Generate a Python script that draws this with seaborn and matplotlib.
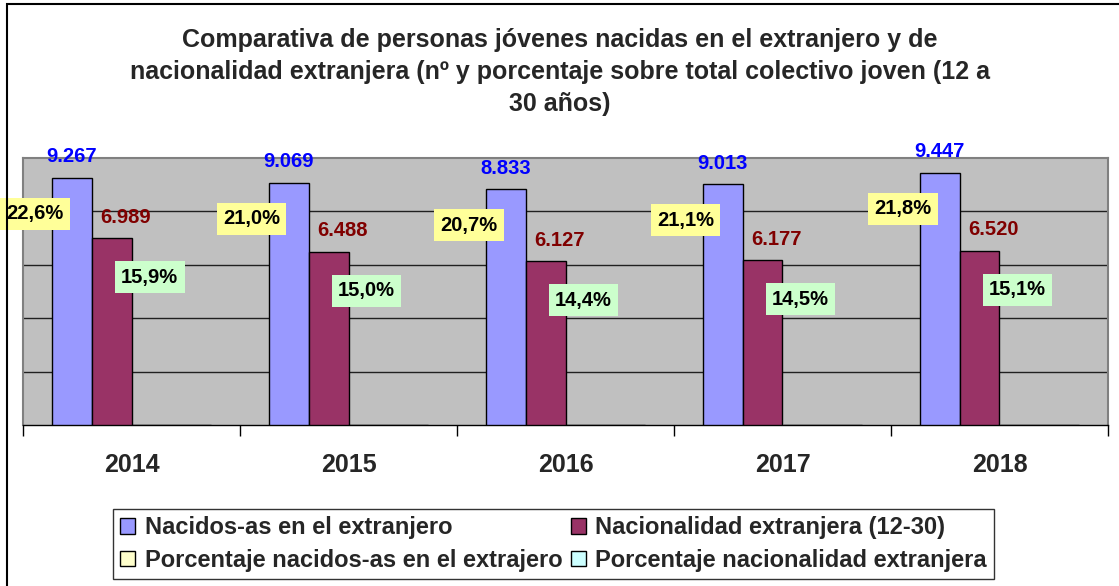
import numpy as np
import pandas as pd
import matplotlib
matplotlib.use("Agg")
import matplotlib.pyplot as plt
import seaborn as sns
from matplotlib.patches import Patch, Rectangle

# data
years = ["2014", "2015", "2016", "2017", "2018"]
nacidos = [9267, 9069, 8833, 9013, 9447]
nacionalidad = [6989, 6488, 6127, 6177, 6520]
pct_nacidos = [22.6, 21.0, 20.7, 21.1, 21.8]
pct_nacionalidad = [15.9, 15.0, 14.4, 14.5, 15.1]
series_names = ["Nacidos-as en el extranjero", "Nacionalidad extranjera (12-30)",
                "Porcentaje nacidos-as en el extrajero", "Porcentaje nacionalidad extranjera"]
colors = ["#9999FF", "#993366", "#FFFFCC", "#CCFFFF"]

title = ("Comparativa de personas jóvenes nacidas en el extranjero y de\n"
         "nacionalidad extranjera (nº y porcentaje sobre total colectivo joven (12 a\n"
         "30 años)")

def miles(v):
    return f"{v:,}".replace(",", ".")

def pct(v):
    return f"{v:.1f}%".replace(".", ",")

# percentages sit on the same axis as fractions, like the original (invisible bars)
df = pd.DataFrame({
    "year": years * 4,
    "serie": np.repeat(series_names, len(years)),
    "valor": nacidos + nacionalidad + [p / 100 for p in pct_nacidos] + [p / 100 for p in pct_nacionalidad],
})

sns.set_style("white")
plt.rcParams["font.family"] = ["Liberation Sans", "DejaVu Sans"]
plt.rcParams["font.weight"] = "bold"

fig = plt.figure(figsize=(11.19, 5.86), dpi=100)
ax = fig.add_axes([23 / 1119, 1 - 425 / 586, 1085 / 1119, 267 / 586])
ax.set_facecolor("#C0C0C0")

sns.barplot(data=df, x="year", y="valor", hue="serie", hue_order=series_names,
            palette=colors, saturation=1, width=0.737, edgecolor="black", linewidth=1,
            legend=False, ax=ax, zorder=3)

ax.set_ylim(0, 10000)
ax.set_xlim(-0.5, len(years) - 0.5)
ax.set_yticks([2000, 4000, 6000, 8000])
ax.set_yticklabels([])
ax.tick_params(axis="y", length=0)
ax.grid(axis="y", color="#202020", linewidth=1)
ax.set_axisbelow(True)
ax.set_xlabel("")
ax.set_ylabel("")
for s in ["left", "right", "top"]:
    ax.spines[s].set_color("#808080")
    ax.spines[s].set_linewidth(1.5)
ax.spines["bottom"].set_color("black")
ax.spines["bottom"].set_linewidth(1)

ax.set_xticks(range(len(years)))
ax.set_xticklabels(years, fontsize=18, fontweight="bold")
ax.tick_params(axis="x", which="major", bottom=True, length=0, pad=20)
ax.set_xticks(np.arange(-0.5, len(years) + 0.5, 1), minor=True)
ax.tick_params(axis="x", which="minor", bottom=True, length=8, width=1,
               color="black", direction="out")

blue_bars = ax.containers[0]
red_bars = ax.containers[1]
for i, (b, r) in enumerate(zip(blue_bars, red_bars)):
    bx = b.get_x() + b.get_width() / 2
    rx = r.get_x() + r.get_width() / 2
    ax.annotate(miles(nacidos[i]), (bx, nacidos[i]), xytext=(0, 21),
                textcoords="offset pixels", ha="center", va="center",
                color="#0000FF", fontsize=14.5, fontweight="bold", zorder=5)
    ax.annotate(miles(nacionalidad[i]), (rx, nacionalidad[i]), xytext=(14, 21),
                textcoords="offset pixels", ha="center", va="center",
                color="#800000", fontsize=14.5, fontweight="bold", zorder=5)
    ax.annotate(pct(pct_nacidos[i]), (bx, nacidos[i]), xytext=(-37, -36),
                textcoords="offset pixels", ha="center", va="center",
                color="black", fontsize=14.5, fontweight="bold", zorder=6,
                bbox=dict(boxstyle="square,pad=0.32", facecolor="#FFFF99", edgecolor="none"))
    ax.annotate(pct(pct_nacionalidad[i]), (rx, nacionalidad[i]), xytext=(38, -39),
                textcoords="offset pixels", ha="center", va="center",
                color="black", fontsize=14.5, fontweight="bold", zorder=6,
                bbox=dict(boxstyle="square,pad=0.32", facecolor="#CCFFCC", edgecolor="none"))

fig.text(0.5005, 1 - 72 / 586, title, ha="center", va="center", fontsize=18,
         fontweight="bold", linespacing=1.4)

handles = [Patch(facecolor=c, edgecolor="black", linewidth=1) for c in colors]
order = [0, 2, 1, 3]
leg = fig.legend([handles[k] for k in order], [series_names[k] for k in order],
                 ncol=2, loc="center", bbox_to_anchor=(553.5 / 1119, 1 - 544 / 586),
                 prop={"size": 17, "weight": "bold"}, frameon=True, fancybox=False,
                 handlelength=0.65, handleheight=0.65, handletextpad=0.4,
                 columnspacing=0.35, labelspacing=0.4, borderpad=0.3)
leg.get_frame().set_edgecolor("black")
leg.get_frame().set_linewidth(1)

# outer chart frame, cut by the image on the right and bottom
fig.patches.append(Rectangle((7 / 1119, -0.1), 1.2, 1.1 - 4 / 586, transform=fig.transFigure,
                             fill=False, edgecolor="black", linewidth=1.5))

fig.savefig("out.png", dpi=100)
